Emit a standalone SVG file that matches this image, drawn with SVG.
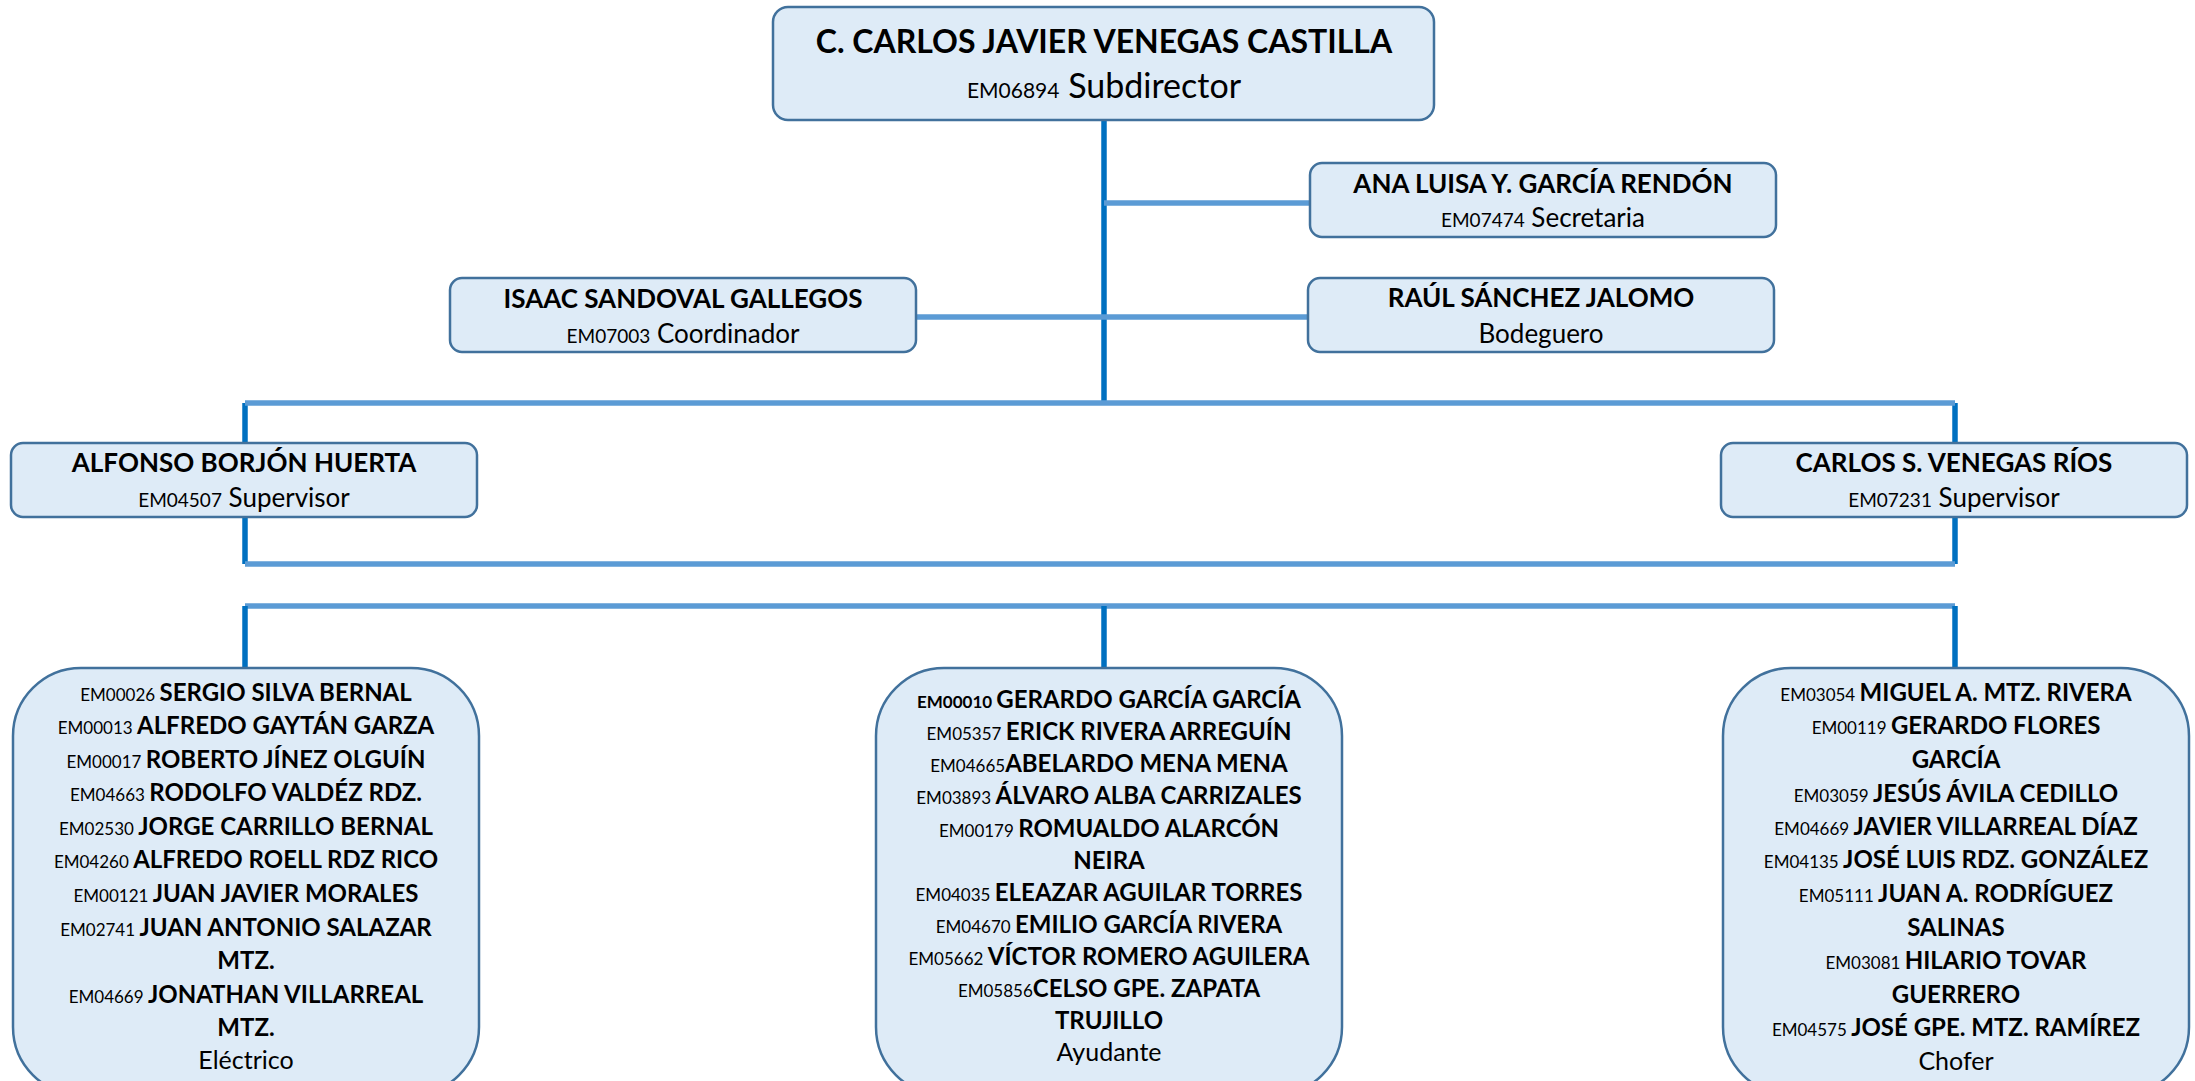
<svg xmlns="http://www.w3.org/2000/svg" width="2195" height="1081" viewBox="0 0 2195 1081">
<style>
.box{fill:#DEEBF7;stroke:#41719C;stroke-width:2.5}
.v{stroke:#0070C0;stroke-width:5.5;fill:none}
.h{stroke:#5B9BD5;stroke-width:5.5;fill:none}
text{font-family:Lato,"Open Sans","Liberation Sans",sans-serif;fill:#000;text-anchor:middle}
.t{font-weight:bold;font-size:32px}
.n{font-weight:bold;font-size:26px}
.r{font-size:26px}
.c{font-size:19px}
.bn{font-weight:bold;font-size:24px}
.bc{font-size:17px}
.br{font-size:25px}
</style>
<rect width="2195" height="1081" fill="#fff"/>
<g id="connectors">
<line class="v" x1="1104" y1="118" x2="1104" y2="403"/>
<line class="h" x1="1104" y1="203" x2="1310" y2="203"/>
<line class="h" x1="916" y1="317" x2="1309" y2="317"/>
<line class="v" x1="245" y1="403" x2="245" y2="564"/>
<line class="v" x1="1955" y1="403" x2="1955" y2="564"/>
<line class="h" x1="245" y1="403" x2="1955" y2="403"/>
<line class="h" x1="245" y1="564" x2="1955" y2="564"/>
<line class="h" x1="245" y1="606" x2="1955" y2="606"/>
<line class="v" x1="245" y1="606" x2="245" y2="669"/>
<line class="v" x1="1104" y1="606" x2="1104" y2="669"/>
<line class="v" x1="1955" y1="606" x2="1955" y2="669"/>
</g>
<g id="n-subdirector">
<rect class="box" x="773" y="7" width="661" height="113" rx="15"/>
<text class="t" x="1104" y="53">C. CARLOS JAVIER VENEGAS CASTILLA</text>
<text x="1104" y="98"><tspan style="font-size:21px">EM06894</tspan><tspan style="font-size:34px"> Subdirector</tspan></text>
</g>
<g id="n-secretaria">
<rect class="box" x="1310" y="163" width="466" height="74" rx="12"/>
<text class="n" x="1543" y="193">ANA LUISA Y. GARCÍA RENDÓN</text>
<text x="1543" y="227"><tspan class="c">EM07474</tspan><tspan class="r"> Secretaria</tspan></text>
</g>
<g id="n-coordinador">
<rect class="box" x="450" y="278" width="466" height="74" rx="12"/>
<text class="n" x="683" y="308">ISAAC SANDOVAL GALLEGOS</text>
<text x="683" y="343"><tspan class="c">EM07003</tspan><tspan class="r"> Coordinador</tspan></text>
</g>
<g id="n-bodeguero">
<rect class="box" x="1308" y="278" width="466" height="74" rx="12"/>
<text class="n" x="1541" y="307">RAÚL SÁNCHEZ JALOMO</text>
<text class="r" x="1541" y="343">Bodeguero</text>
</g>
<g id="n-supervisor1">
<rect class="box" x="11" y="443" width="466" height="74" rx="12"/>
<text class="n" x="244" y="472">ALFONSO BORJÓN HUERTA</text>
<text x="244" y="507"><tspan class="c">EM04507</tspan><tspan class="r"> Supervisor</tspan></text>
</g>
<g id="n-supervisor2">
<rect class="box" x="1721" y="443" width="466" height="74" rx="12"/>
<text class="n" x="1954" y="472">CARLOS S. VENEGAS RÍOS</text>
<text x="1954" y="507"><tspan class="c">EM07231</tspan><tspan class="r"> Supervisor</tspan></text>
</g>
<g id="n-electrico">
<rect class="box" x="13" y="668" width="466" height="427" rx="68"/>
<text x="246" y="701"><tspan class="bc">EM00026 </tspan><tspan class="bn">SERGIO SILVA BERNAL</tspan></text>
<text x="246" y="734"><tspan class="bc">EM00013 </tspan><tspan class="bn">ALFREDO GAYTÁN GARZA</tspan></text>
<text x="246" y="768"><tspan class="bc">EM00017 </tspan><tspan class="bn">ROBERTO JÍNEZ OLGUÍN</tspan></text>
<text x="246" y="801"><tspan class="bc">EM04663 </tspan><tspan class="bn">RODOLFO VALDÉZ RDZ.</tspan></text>
<text x="246" y="835"><tspan class="bc">EM02530 </tspan><tspan class="bn">JORGE CARRILLO BERNAL</tspan></text>
<text x="246" y="868"><tspan class="bc">EM04260 </tspan><tspan class="bn">ALFREDO ROELL RDZ RICO</tspan></text>
<text x="246" y="902"><tspan class="bc">EM00121 </tspan><tspan class="bn">JUAN JAVIER MORALES</tspan></text>
<text x="246" y="936"><tspan class="bc">EM02741 </tspan><tspan class="bn">JUAN ANTONIO SALAZAR</tspan></text>
<text class="bn" x="246" y="969">MTZ.</text>
<text x="246" y="1003"><tspan class="bc">EM04669 </tspan><tspan class="bn">JONATHAN VILLARREAL</tspan></text>
<text class="bn" x="246" y="1036">MTZ.</text>
<text class="br" x="246" y="1069">Eléctrico</text>
</g>
<g id="n-ayudante">
<rect class="box" x="876" y="668" width="466" height="427" rx="68"/>
<text x="1109" y="708"><tspan class="bc" font-weight="bold">EM00010 </tspan><tspan class="bn">GERARDO GARCÍA GARCÍA</tspan></text>
<text x="1109" y="740"><tspan class="bc">EM05357 </tspan><tspan class="bn">ERICK RIVERA ARREGUÍN</tspan></text>
<text x="1109" y="772"><tspan class="bc">EM04665</tspan><tspan class="bn">ABELARDO MENA MENA</tspan></text>
<text x="1109" y="804"><tspan class="bc">EM03893 </tspan><tspan class="bn">ÁLVARO ALBA CARRIZALES</tspan></text>
<text x="1109" y="837"><tspan class="bc">EM00179 </tspan><tspan class="bn">ROMUALDO ALARCÓN</tspan></text>
<text class="bn" x="1109" y="869">NEIRA</text>
<text x="1109" y="901"><tspan class="bc">EM04035 </tspan><tspan class="bn">ELEAZAR AGUILAR TORRES</tspan></text>
<text x="1109" y="933"><tspan class="bc">EM04670 </tspan><tspan class="bn">EMILIO GARCÍA RIVERA</tspan></text>
<text x="1109" y="965"><tspan class="bc">EM05662 </tspan><tspan class="bn">VÍCTOR ROMERO AGUILERA</tspan></text>
<text x="1109" y="997"><tspan class="bc">EM05856</tspan><tspan class="bn">CELSO GPE. ZAPATA</tspan></text>
<text class="bn" x="1109" y="1029">TRUJILLO</text>
<text class="br" x="1109" y="1061">Ayudante</text>
</g>
<g id="n-chofer">
<rect class="box" x="1723" y="668" width="466" height="427" rx="68"/>
<text x="1956" y="701"><tspan class="bc">EM03054 </tspan><tspan class="bn">MIGUEL A. MTZ. RIVERA</tspan></text>
<text x="1956" y="734"><tspan class="bc">EM00119 </tspan><tspan class="bn">GERARDO FLORES</tspan></text>
<text class="bn" x="1956" y="768">GARCÍA</text>
<text x="1956" y="802"><tspan class="bc">EM03059 </tspan><tspan class="bn">JESÚS ÁVILA CEDILLO</tspan></text>
<text x="1956" y="835"><tspan class="bc">EM04669 </tspan><tspan class="bn">JAVIER VILLARREAL DÍAZ</tspan></text>
<text x="1956" y="868"><tspan class="bc">EM04135 </tspan><tspan class="bn">JOSÉ LUIS RDZ. GONZÁLEZ</tspan></text>
<text x="1956" y="902"><tspan class="bc">EM05111 </tspan><tspan class="bn">JUAN A. RODRÍGUEZ</tspan></text>
<text class="bn" x="1956" y="936">SALINAS</text>
<text x="1956" y="969"><tspan class="bc">EM03081 </tspan><tspan class="bn">HILARIO TOVAR</tspan></text>
<text class="bn" x="1956" y="1003">GUERRERO</text>
<text x="1956" y="1036"><tspan class="bc">EM04575 </tspan><tspan class="bn">JOSÉ GPE. MTZ. RAMÍREZ</tspan></text>
<text class="br" x="1956" y="1070">Chofer</text>
</g>
</svg>
